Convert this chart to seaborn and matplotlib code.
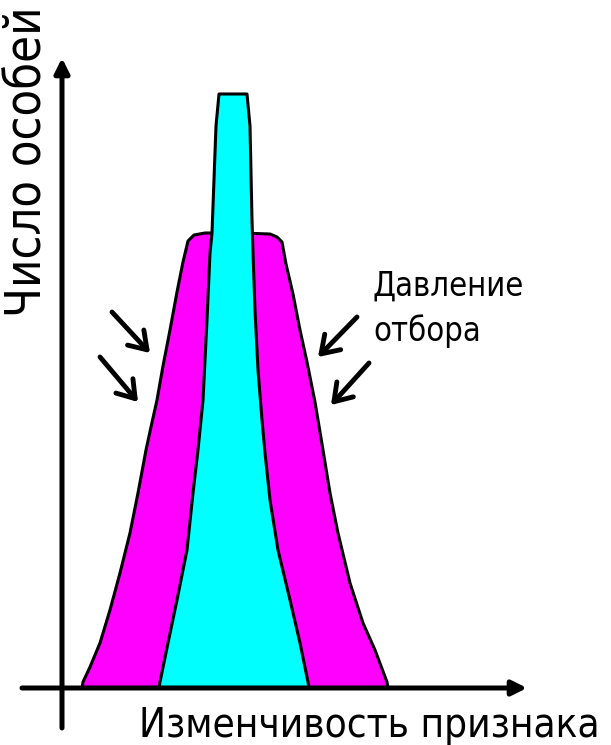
import numpy as np
import matplotlib.pyplot as plt
import seaborn as sns

# wide (magenta) distribution before selection: edge x vs. number of individuals
wide_left_x = [82, 83, 90, 100, 110, 120, 130, 138, 146, 151, 157, 163, 170, 177, 183, 188]
wide_left_y = [0, 6, 21, 45, 78, 115, 155, 195, 238, 261, 288, 322, 358, 396, 426, 447]
wide_top_x = [194, 205, 240, 270, 277]
wide_top_y = [453, 455, 455, 454, 451]
wide_right_x = [282, 286, 293, 300, 307, 315, 323, 330, 338, 350, 363, 375, 387, 388]
wide_right_y = [446, 424, 394, 358, 326, 286, 238, 195, 155, 105, 65, 38, 6, 0]

# narrow (cyan) distribution after stabilising selection
narrow_left_x = [159, 160, 168, 177, 187, 193, 198, 203, 207, 210, 212, 216, 219]
narrow_left_y = [0, 6, 45, 88, 138, 195, 238, 288, 368, 435, 455, 562, 594]
narrow_right_x = [247, 250, 252, 253, 255, 258, 262, 265, 270, 278, 290, 300, 308, 309]
narrow_right_y = [594, 562, 468, 435, 378, 318, 268, 235, 188, 138, 88, 45, 6, 0]

# selection pressure arrows (tail -> tip)
press_tail = [(112, 312), (100, 357), (357, 317), (369, 363)]
press_tip = [(150, 353), (138, 402), (318, 357), (331, 405)]

x_label = "Изменчивость признака"
y_label = "Число особей"
press_label = "Давление\nотбора"

MAGENTA = "#FF00FF"
CYAN = "#00FFFF"
X0, Y0 = 62, 688  # where the axes cross in the picture

sns.set_theme(style="white")
plt.rcParams["font.family"] = ["DejaVu Sans"]
plt.rcParams["font.stretch"] = "condensed"

fig = plt.figure(figsize=(6.11, 7.45), dpi=100)
ax = fig.add_axes([0, 0, 1, 1])
ax.set_xlim(-X0, 611 - X0)
ax.set_ylim(-(745 - Y0), Y0)
ax.axis("off")

# wide distribution
wx = np.r_[wide_left_x, wide_top_x, wide_right_x] - X0
wy = np.r_[wide_left_y, wide_top_y, wide_right_y]
ax.fill(wx, wy, color=MAGENTA, zorder=2)
sns.lineplot(x=wx, y=wy, sort=False, color="black", lw=2.2, ax=ax, zorder=3)

# narrow distribution
nx = np.r_[narrow_left_x, narrow_right_x] - X0
ny = np.r_[narrow_left_y, narrow_right_y]
ax.fill(nx, ny, color=CYAN, zorder=4)
sns.lineplot(x=nx, y=ny, sort=False, color="black", lw=2.2, ax=ax, zorder=5)

# axes with arrows
ax.annotate("", xy=(527 - X0, 0), xytext=(22 - X0, 0),
            arrowprops=dict(arrowstyle="-|>", lw=3.6, color="black",
                            mutation_scale=22, shrinkA=0, shrinkB=0), zorder=6)
ax.annotate("", xy=(0, Y0 - 58), xytext=(0, Y0 - 728),
            arrowprops=dict(arrowstyle="-|>", lw=3.6, color="black",
                            mutation_scale=22, shrinkA=0, shrinkB=0), zorder=6)

for (x0, y0), (x1, y1) in zip(press_tail, press_tip):
    ax.annotate("", xy=(x1 - X0, Y0 - y1), xytext=(x0 - X0, Y0 - y0),
                arrowprops=dict(arrowstyle="->,head_length=0.6,head_width=0.4",
                                lw=3.5, color="black", mutation_scale=20,
                                shrinkA=0, shrinkB=0), zorder=6)

ax.text(373 - X0, Y0 - 270, press_label, fontsize=23.5, ha="left", va="top",
        linespacing=1.4, color="black")
ax.text(139 - X0, Y0 - 737, x_label, fontsize=29, ha="left", va="baseline",
        color="black")
ax.text(52 - X0, Y0 - 6, y_label, fontsize=35, rotation=90, ha="right",
        va="top", color="black")

plt.savefig("out.png", dpi=100)
